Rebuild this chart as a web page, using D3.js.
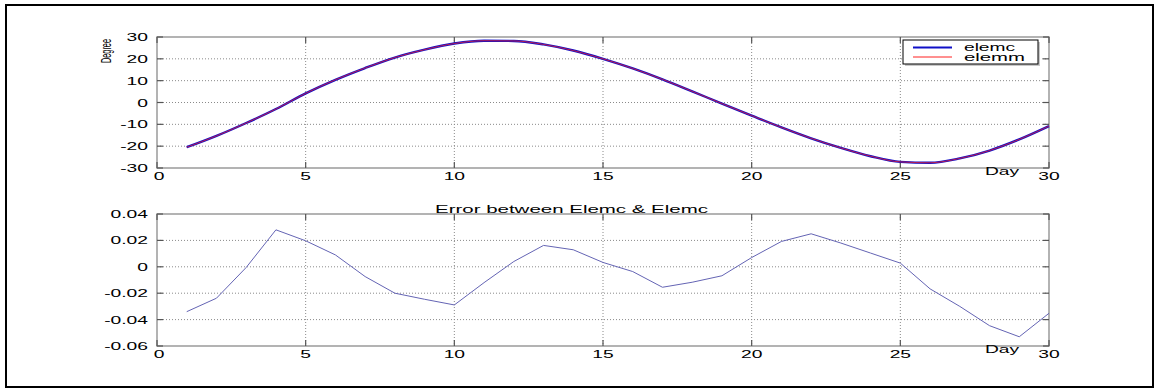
<!DOCTYPE html>
<html><head><meta charset="utf-8">
<script src="https://cdn.jsdelivr.net/npm/d3@7"></script>
<style>
html,body{margin:0;padding:0;background:#fff;}
text{font-family:"Liberation Sans",Arial,sans-serif;fill:#000;}
</style></head>
<body><svg id="c" width="1155" height="389"></svg>
<script>
const days = d3.range(1, 31);
const elemc = [-20.5,-15.3,-9.4,-3.0,4.2,10.4,15.8,20.6,24.2,27.0,28.3,28.2,26.6,23.8,20.0,15.6,10.6,5.1,-0.5,-6.0,-11.4,-16.4,-20.8,-24.6,-27.2,-27.6,-25.6,-22.0,-16.9,-10.8];
const elemm = [-20.5,-15.3,-9.4,-3.0,4.2,10.4,15.8,20.6,24.2,27.0,28.3,28.2,26.6,23.8,20.0,15.6,10.6,5.1,-0.5,-6.0,-11.4,-16.4,-20.8,-24.6,-27.2,-27.6,-25.6,-22.0,-16.9,-10.8];
const errorVals = [-0.034,-0.0238,-0.0005,0.028,0.0197,0.009,-0.0074,-0.020,-0.0246,-0.0289,-0.012,0.004,0.0162,0.0129,0.0033,-0.0036,-0.0155,-0.0117,-0.0068,0.007,0.0192,0.025,0.018,0.0104,0.0028,-0.0167,-0.030,-0.0446,-0.053,-0.0352];
const xTicks = [0,5,10,15,20,25,30];
const topYTicks = [-30,-20,-10,0,10,20,30];
const botYTicks = [-0.06,-0.04,-0.02,0,0.02,0.04];
const seriesNames = ["elemc","elemm"];
const seriesColors = ["#1010c8","#ff2020"];

const svg = d3.select("#c");
svg.append("rect").attr("x",6).attr("y",5).attr("width",1147).attr("height",382)
  .attr("fill","none").attr("stroke","#000").attr("stroke-width",2);

const X0 = 157, X1 = 1049;
const axisGray = "#9a9a9a";
const FS = 11, SX = 1.75;

function wideText(g, x, y, txt, anchor) {
  return g.append("text").attr("transform",`translate(${x},${y}) scale(${SX},1)`)
    .attr("text-anchor",anchor).attr("font-size",FS).text(txt);
}

function panel(top, bottom, yDomain, yTicks, fmt) {
  const x = d3.scaleLinear().domain([0,30]).range([X0,X1]);
  const y = d3.scaleLinear().domain(yDomain).range([bottom, top]);
  const g = svg.append("g");
  g.selectAll(".gx").data(xTicks.slice(1,-1)).join("line")
    .attr("x1",d=>x(d)).attr("x2",d=>x(d)).attr("y1",top).attr("y2",bottom)
    .attr("stroke","#8a8a8a").attr("stroke-width",1).attr("stroke-dasharray","1,2");
  g.selectAll(".gy").data(yTicks.slice(1,-1)).join("line")
    .attr("x1",X0).attr("x2",X1).attr("y1",d=>y(d)).attr("y2",d=>y(d))
    .attr("stroke","#8a8a8a").attr("stroke-width",1).attr("stroke-dasharray","1,2");
  g.append("rect").attr("x",X0).attr("y",top).attr("width",X1-X0).attr("height",bottom-top)
    .attr("fill","none").attr("stroke",axisGray).attr("stroke-width",1.5);
  g.selectAll(".tb").data(xTicks).join("line")
    .attr("x1",d=>x(d)).attr("x2",d=>x(d)).attr("y1",bottom).attr("y2",bottom-6)
    .attr("stroke","#555").attr("stroke-width",1.2);
  g.selectAll(".tt").data(xTicks).join("line")
    .attr("x1",d=>x(d)).attr("x2",d=>x(d)).attr("y1",top).attr("y2",top+6)
    .attr("stroke","#555").attr("stroke-width",1.2);
  g.selectAll(".tl").data(yTicks).join("line")
    .attr("x1",X0).attr("x2",X0+6).attr("y1",d=>y(d)).attr("y2",d=>y(d))
    .attr("stroke","#555").attr("stroke-width",1.2);
  g.selectAll(".tr").data(yTicks).join("line")
    .attr("x1",X1).attr("x2",X1-6).attr("y1",d=>y(d)).attr("y2",d=>y(d))
    .attr("stroke","#555").attr("stroke-width",1.2);
  yTicks.forEach(d => wideText(g, X0-9, y(d)+4, fmt(d), "end"));
  xTicks.forEach(d => wideText(g, x(d) + (d===0?2:0), bottom+12, d, "middle"));
  wideText(g, 1002, bottom+7, "Day", "middle");
  return {x,y,g};
}

const p1 = panel(37, 168, [-30,30], topYTicks, d=>String(d));
const line1 = d3.line().x((d,i)=>p1.x(days[i])).y(d=>p1.y(d)).curve(d3.curveMonotoneX);
p1.g.append("path").datum(elemc).attr("d",line1).attr("fill","none")
  .attr("stroke",seriesColors[0]).attr("stroke-width",2.4);
p1.g.append("path").datum(elemm).attr("d",line1).attr("fill","none")
  .attr("stroke",seriesColors[1]).attr("stroke-width",1).attr("stroke-opacity",0.7);
svg.append("text").attr("transform","translate(111,51) rotate(-90)")
  .attr("text-anchor","middle").attr("font-size",14.5).attr("textLength",24)
  .attr("lengthAdjust","spacingAndGlyphs").text("Degree");

// legend
const lg = svg.append("g");
lg.append("rect").attr("x",905).attr("y",42).attr("width",135).attr("height",24).attr("fill","#c8c8c8");
lg.append("rect").attr("x",903).attr("y",40).attr("width",135).attr("height",24)
  .attr("fill","#fff").attr("stroke","#000").attr("stroke-width",1);
const legendLen = [51, 61];
seriesNames.forEach((n,i)=>{
  const yy = 47.5 + i*9.5;
  lg.append("line").attr("x1",913).attr("x2",952).attr("y1",yy).attr("y2",yy)
    .attr("stroke",seriesColors[i]).attr("stroke-width",i===0?2:1);
  lg.append("text").attr("x",964).attr("y",yy+3.5).attr("font-size",10)
    .attr("textLength",legendLen[i]).attr("lengthAdjust","spacingAndGlyphs").text(n);
});

// bottom panel
const p2 = panel(214, 346, [-0.06,0.04], botYTicks, d=>d===0?"0":d.toFixed(2));
const line2 = d3.line().x((d,i)=>p2.x(days[i])).y(d=>p2.y(d));
p2.g.append("path").datum(errorVals).attr("d",line2).attr("fill","none")
  .attr("stroke","#6464b4").attr("stroke-width",1);
svg.append("text").attr("x",435).attr("y",212.5).attr("font-size",10)
  .attr("textLength",273).attr("lengthAdjust","spacingAndGlyphs")
  .text("Error between Elemc & Elemc");
</script></body></html>
